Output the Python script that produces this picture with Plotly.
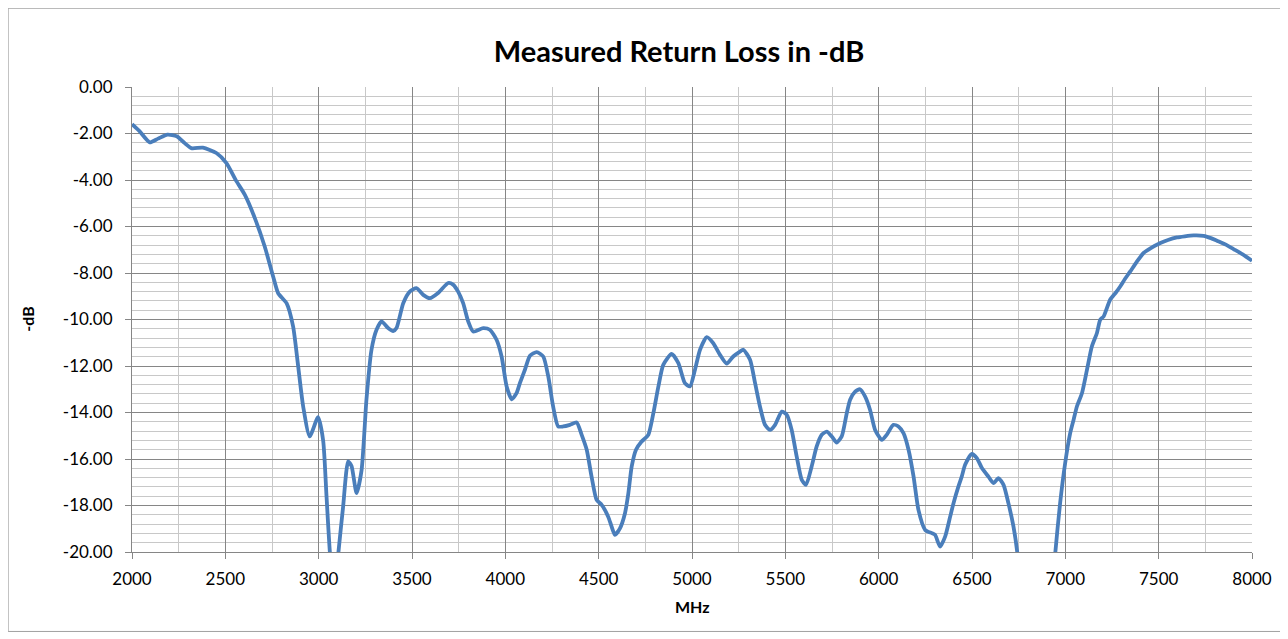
import plotly.graph_objects as go

# Frequency (MHz) and measured return loss (dB)
freq = [2000, 2040, 2095, 2140, 2190, 2240, 2280, 2318, 2380, 2452, 2506, 2560, 2604, 2658, 2711,
        2756, 2783, 2828, 2863, 2890, 2917, 2952, 2997, 3024, 3042, 3060, 3085, 3106, 3131,
        3158, 3176, 3203, 3230, 3256, 3283, 3310, 3337, 3372, 3399, 3417, 3453, 3488, 3524,
        3560, 3596, 3640, 3694, 3720, 3747, 3774, 3801, 3828, 3881, 3917, 3953, 3980, 4007,
        4034, 4060, 4078, 4105, 4132, 4168, 4203, 4230, 4256, 4283, 4310, 4346, 4382, 4409,
        4436, 4462, 4489, 4516, 4551, 4569, 4587, 4614, 4641, 4659, 4677, 4700, 4730, 4766,
        4793, 4820, 4846, 4891, 4927, 4962, 4989, 5016, 5043, 5079, 5114, 5150, 5186, 5221,
        5257, 5275, 5311, 5338, 5364, 5391, 5418, 5445, 5481, 5508, 5534, 5561, 5588, 5611,
        5641, 5668, 5695, 5722, 5749, 5775, 5802, 5829, 5847, 5874, 5900, 5927, 5954, 5981,
        6017, 6043, 6079, 6106, 6133, 6160, 6187, 6213, 6249, 6285, 6302, 6329, 6356, 6383,
        6401, 6427, 6445, 6463, 6499, 6526, 6553, 6588, 6615, 6642, 6669, 6695, 6722, 6743,
        6790, 6845, 6900, 6946, 6972, 6999, 7026, 7044, 7062, 7089, 7115, 7142, 7169, 7187,
        7205, 7240, 7270, 7294, 7320, 7348, 7380, 7419, 7460, 7509, 7550, 7598, 7640, 7687,
        7741, 7780, 7812, 7860, 7901, 7950, 8000]
rl = [-1.60, -1.90, -2.38, -2.22, -2.05, -2.12, -2.40, -2.63, -2.61, -2.84, -3.27, -4.06, -4.63,
      -5.64, -6.86, -8.15, -8.87, -9.30, -10.30, -12.00, -13.74, -15.03, -14.20, -15.20, -17.60,
      -20.00, -22.00, -20.00, -18.05, -16.10, -16.30, -17.47, -16.47, -13.45, -11.30, -10.44,
      -10.08, -10.37, -10.50, -10.37, -9.30, -8.80, -8.65, -8.94, -9.08, -8.86, -8.43, -8.50,
      -8.80, -9.30, -10.08, -10.52, -10.37, -10.44, -10.87, -11.59, -12.88, -13.43, -13.17,
      -12.74, -12.16, -11.56, -11.40, -11.59, -12.45, -13.74, -14.60, -14.60, -14.53, -14.43,
      -14.96, -15.60, -16.76, -17.76, -17.97, -18.48, -18.90, -19.26, -18.98, -18.33, -17.47,
      -16.32, -15.60, -15.25, -14.96, -14.03, -12.88, -11.95, -11.48, -11.88, -12.74, -12.88,
      -12.16, -11.30, -10.76, -11.02, -11.52, -11.90, -11.59, -11.38, -11.30, -11.73, -12.74,
      -13.74, -14.53, -14.75, -14.53, -13.96, -14.10, -14.75, -15.90, -16.90, -17.11, -16.32,
      -15.46, -14.96, -14.82, -15.03, -15.29, -15.03, -14.03, -13.45, -13.10, -13.00, -13.31,
      -13.89, -14.75, -15.18, -14.96, -14.53, -14.60, -14.89, -15.60, -16.76, -18.19, -19.05,
      -19.19, -19.26, -19.77, -19.34, -18.48, -17.90, -17.19, -16.76, -16.25, -15.78, -15.96,
      -16.39, -16.76, -17.04, -16.82, -17.11, -17.90, -18.90, -20.05, -25.00, -30.00, -25.00,
      -20.05, -17.90, -16.18, -14.89, -14.32, -13.74, -13.17, -12.20, -11.16, -10.59, -10.01,
      -9.87, -9.15, -8.85, -8.58, -8.25, -7.93, -7.55, -7.14, -6.92, -6.71, -6.58, -6.47,
      -6.42, -6.38, -6.40, -6.50, -6.61, -6.78, -6.97, -7.20, -7.47]

x_ticks = [2000, 2500, 3000, 3500, 4000, 4500, 5000, 5500, 6000, 6500, 7000, 7500, 8000]
y_ticks = [0, -2, -4, -6, -8, -10, -12, -14, -16, -18, -20]

FONT = "Lato, 'Noto Sans', sans-serif"
MAJOR = "#868686"
MINOR = "#c8c8c8"

fig = go.Figure()
fig.add_trace(go.Scatter(x=freq, y=rl, mode="lines",
                         line=dict(color="#4A7EBB", width=3.8, shape="spline", smoothing=0.6),
                         hoverinfo="x+y", showlegend=False))

W, H = 1280, 631
fig.update_layout(
    width=W, height=H,
    margin=dict(l=124, r=36, t=79, b=87),
    paper_bgcolor="white", plot_bgcolor="white",
    font=dict(family=FONT, size=17, color="#000000"),
    title=dict(text="<b>Measured Return Loss in -dB</b>", x=671 / W, xref="container",
               y=1 - 44 / H, yref="container", xanchor="center", yanchor="middle",
               font=dict(family=FONT, size=29, color="#000000")),
)
fig.update_xaxes(
    range=[2000, 8000], tickvals=x_ticks, ticktext=[str(v) for v in x_ticks],
    showgrid=True, gridcolor=MAJOR, gridwidth=1,
    minor=dict(dtick=250, tick0=2000, showgrid=True, gridcolor=MINOR, gridwidth=1, ticks=""),
    showline=True, linecolor=MAJOR, linewidth=1, ticks="outside", ticklen=6, tickcolor=MAJOR,
    zeroline=False, tickfont=dict(size=17, family=FONT), ticklabelstandoff=6,
)
fig.update_yaxes(
    range=[-20, 0], tickvals=y_ticks, ticktext=[f"{v:.2f}" for v in y_ticks],
    showgrid=True, gridcolor=MAJOR, gridwidth=1,
    minor=dict(dtick=0.4, tick0=0, showgrid=True, gridcolor=MINOR, gridwidth=1, ticks=""),
    showline=True, linecolor=MAJOR, linewidth=1, ticks="outside", ticklen=6, tickcolor=MAJOR,
    zeroline=False, tickfont=dict(size=17, family=FONT), ticklabelstandoff=9,
)
fig.add_annotation(text="<b>-dB</b>", xref="paper", yref="paper", x=-0.0935, y=0.5,
                   textangle=-90, showarrow=False, font=dict(size=16, family=FONT),
                   xanchor="center", yanchor="middle")
fig.add_annotation(text="<b>MHz</b>", xref="paper", yref="paper", x=0.5, y=-0.117,
                   showarrow=False, font=dict(size=16, family=FONT),
                   xanchor="center", yanchor="middle")
# chart outer border
fig.add_shape(type="rect", xref="paper", yref="paper",
              x0=-0.1106, x1=1.0262, y0=-0.1709, y1=1.1694,
              line=dict(color="#a0a0a0", width=1), fillcolor="rgba(0,0,0,0)", layer="below")

fig.write_html("out.html")
